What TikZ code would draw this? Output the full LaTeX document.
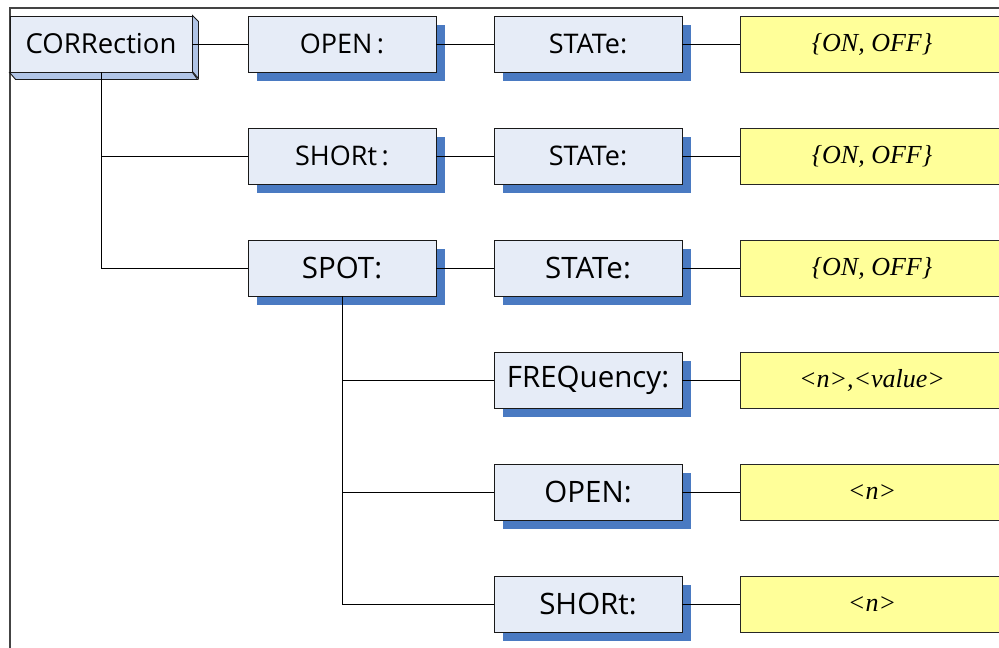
\documentclass[tikz,border=0pt]{standalone}
\usepackage{fontspec}
\setmainfont{Open Sans}
\newfontfamily\valfont{Liberation Serif}
\usetikzlibrary{shadows}
\definecolor{boxface}{HTML}{E6ECF7}
\definecolor{shadowblue}{HTML}{4A7AC2}
\definecolor{extrude}{HTML}{B0C4E6}
\definecolor{valyellow}{HTML}{FFFF99}
\definecolor{framegray}{HTML}{444444}
\tikzset{
  cmdbox/.style={draw=black!90, line width=0.9pt, fill=boxface, minimum width=188pt, minimum height=56pt, inner sep=0pt,
    font=\fontsize{27}{30}\selectfont,
    drop shadow={shadow xshift=9pt, shadow yshift=-9pt, fill=shadowblue, opacity=1}},
  bigtext/.style={font=\fontsize{29.5}{32}\selectfont},
  rootbox/.style={draw=black!90, line width=0.9pt, fill=boxface, minimum width=182pt, minimum height=56pt, inner sep=0pt,
    font=\fontsize{27.5}{30}\selectfont},
  valbox/.style={draw=black!85, line width=0.9pt, fill=valyellow, minimum width=264pt, minimum height=56pt, inner sep=0pt,
    font=\valfont\itshape\fontsize{26}{30}\selectfont},
  wire/.style={draw=black, line width=0.8pt},
  framel/.style={draw=framegray, line width=1.6pt}
}
\begin{document}
\begin{tikzpicture}[x=1pt, y=-1pt]
\useasboundingbox (0,0) rectangle (999,648);
\clip (0,0) rectangle (999,648);
% frame
\coordinate (ftl) at (10,8);
\coordinate (ftr) at (999,8);
\coordinate (fbl) at (10,648);
\draw[framel] (ftr) -- (ftl) -- (fbl);

% root
\node[rootbox] (corr) at (101,44) {CORRection};
\filldraw[fill=extrude, draw=black!90, line width=0.9pt]
  (corr.north east) -- ++(6,6) -- ++(0,57) -- ++(-6,-7) -- cycle;
\filldraw[fill=extrude, draw=black!90, line width=0.9pt]
  (corr.south west) -- ++(6,7) -- ++(182,0) -- (corr.south east) -- cycle;
\node[rootbox] at (101,44) {CORRection};

% column 2
\node[cmdbox] (open) at (342,44) {OPEN\,:};
\node[cmdbox] (short) at (342,156) {SHORt\,:};
\node[cmdbox, bigtext] (spot) at (342,268) {SPOT:};

% column 3
\node[cmdbox] (st1) at (588,44) {STATe:};
\node[cmdbox] (st2) at (588,156) {STATe:};
\node[cmdbox, bigtext] (st3) at (588,268) {STATe:};
\node[cmdbox, bigtext] (freq) at (588,380) {FREQuency:};
\node[cmdbox, bigtext] (sopen) at (588,492) {OPEN:};
\node[cmdbox, bigtext] (sshort) at (588,604) {SHORt:};

% values
\node[valbox] (v1) at (872,44) {\{ON, OFF\}};
\node[valbox] (v2) at (872,156) {\{ON, OFF\}};
\node[valbox] (v3) at (872,268) {\{ON, OFF\}};
\node[valbox] (v4) at (872,380) {<n>,<value>};
\node[valbox] (v5) at (872,492) {<n>};
\node[valbox] (v6) at (872,604) {<n>};

% connectors
\draw[wire] (corr.east) -- (open.west);
\draw[wire] (corr.south) |- (short.west);
\draw[wire] (corr.south) |- (spot.west);
\draw[wire] (open.east) -- (st1.west);
\draw[wire] (short.east) -- (st2.west);
\draw[wire] (spot.east) -- (st3.west);
\draw[wire] (spot.south) |- (freq.west);
\draw[wire] (spot.south) |- (sopen.west);
\draw[wire] (spot.south) |- (sshort.west);
\draw[wire] (st1.east) -- (v1.west);
\draw[wire] (st2.east) -- (v2.west);
\draw[wire] (st3.east) -- (v3.west);
\draw[wire] (freq.east) -- (v4.west);
\draw[wire] (sopen.east) -- (v5.west);
\draw[wire] (sshort.east) -- (v6.west);
\end{tikzpicture}
\end{document}
